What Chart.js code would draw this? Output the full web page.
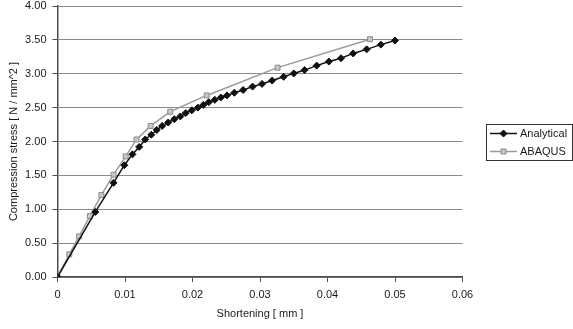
<!DOCTYPE html>
<html>
<head>
<meta charset="utf-8">
<title>Compression stress vs shortening</title>
<style>
  html, body { margin: 0; padding: 0; background: #ffffff; }
  #wrap { width: 573px; height: 329px; }
</style>
</head>
<body>
<div id="wrap"><canvas id="stressChart" width="573" height="329"></canvas></div>
<script src="https://cdn.jsdelivr.net/npm/chart.js@4.4.1/dist/chart.umd.min.js"></script>
<script>
  const SERIES_NAMES = ['Analytical', 'ABAQUS'];

  const ANALYTICAL_X = [0, 0.0056, 0.0083, 0.0099, 0.0111, 0.0121, 0.0130, 0.0139, 0.0147, 0.0155,
    0.0164, 0.0173, 0.0182, 0.0190, 0.0199, 0.0208, 0.0216, 0.0224, 0.0233, 0.0242,
    0.0251, 0.0262, 0.0275, 0.0289, 0.0303, 0.0318, 0.0335, 0.0350, 0.0366, 0.0384,
    0.0402, 0.0420, 0.0438, 0.0458, 0.0479, 0.0500];
  const ANALYTICAL_Y = [0, 0.96, 1.39, 1.65, 1.81, 1.92, 2.03, 2.10, 2.17, 2.23,
    2.28, 2.33, 2.37, 2.42, 2.46, 2.50, 2.54, 2.58, 2.615, 2.65,
    2.68, 2.72, 2.76, 2.81, 2.85, 2.90, 2.955, 3.005, 3.054, 3.12,
    3.18, 3.23, 3.30, 3.36, 3.43, 3.49];

  const ABAQUS_X = [0, 0.00175, 0.0032, 0.0048, 0.0065, 0.0083, 0.0101, 0.0117, 0.0138, 0.0167, 0.0221, 0.0326, 0.0463];
  const ABAQUS_Y = [0, 0.335, 0.60, 0.90, 1.21, 1.51, 1.78, 2.03, 2.23, 2.44, 2.68, 3.09, 3.51];

  const X_TICKS = [0, 0.01, 0.02, 0.03, 0.04, 0.05, 0.06];
  const X_TICK_LABELS = ['0', '0.01', '0.02', '0.03', '0.04', '0.05', '0.06'];
  const Y_TICKS = [0, 0.5, 1, 1.5, 2, 2.5, 3, 3.5, 4];
  const Y_TICK_LABELS = ['0.00', '0.50', '1.00', '1.50', '2.00', '2.50', '3.00', '3.50', '4.00'];

  const FONT_FAMILY = "Arial, 'Liberation Sans', sans-serif";
  const TEXT_COLOR = '#1a1a1a';
  const AXIS_COLOR = '#4d4d4d';
  const GRID_COLOR = '#8a8a8a';

  function toPoints(xs, ys) {
    return xs.map((x, i) => ({ x: x, y: ys[i] }));
  }

  // legend in a box, line with marker in the middle like the original
  const boxLegend = {
    id: 'boxLegend',
    afterDraw(chart) {
      const ctx = chart.ctx;
      const box = { left: 486.5, top: 124.5, width: 86, height: 36 };
      ctx.save();
      ctx.strokeStyle = '#333333';
      ctx.lineWidth = 1;
      ctx.strokeRect(box.left, box.top, box.width, box.height);

      chart.data.datasets.forEach((ds, i) => {
        const y = box.top + 9 + i * 18;
        const mx = 503.5;
        ctx.strokeStyle = ds.borderColor;
        ctx.lineWidth = ds.borderWidth;
        ctx.beginPath();
        ctx.moveTo(490, y);
        ctx.lineTo(517, y);
        ctx.stroke();

        ctx.fillStyle = ds.pointBackgroundColor;
        ctx.strokeStyle = ds.pointBorderColor;
        ctx.lineWidth = ds.pointBorderWidth;
        const r = ds.pointRadius;
        ctx.beginPath();
        if (ds.pointStyle === 'rectRot') {
          ctx.moveTo(mx - r, y);
          ctx.lineTo(mx, y - r);
          ctx.lineTo(mx + r, y);
          ctx.lineTo(mx, y + r);
          ctx.closePath();
        } else {
          const s = Math.SQRT1_2 * r;
          ctx.rect(mx - s, y - s, 2 * s, 2 * s);
        }
        ctx.fill();
        ctx.stroke();

        ctx.fillStyle = TEXT_COLOR;
        ctx.font = '11px ' + FONT_FAMILY;
        ctx.textBaseline = 'middle';
        ctx.textAlign = 'left';
        ctx.fillText(ds.label, 520, y);
      });
      ctx.restore();
    }
  };

  const ctx = document.getElementById('stressChart').getContext('2d');

  new Chart(ctx, {
    type: 'line',
    data: {
      datasets: [
        {
          label: SERIES_NAMES[0],
          data: toPoints(ANALYTICAL_X, ANALYTICAL_Y),
          borderColor: '#111111',
          borderWidth: 1.5,
          pointStyle: 'rectRot',
          pointRadius: 3.5,
          pointBackgroundColor: '#111111',
          pointBorderColor: '#111111',
          pointBorderWidth: 1,
          tension: 0
        },
        {
          label: SERIES_NAMES[1],
          data: toPoints(ABAQUS_X, ABAQUS_Y),
          borderColor: '#9a9a9a',
          borderWidth: 1.5,
          pointStyle: 'rect',
          pointRadius: 3.5,
          pointBackgroundColor: '#c8c8c8',
          pointBorderColor: '#8a8a8a',
          pointBorderWidth: 1,
          tension: 0
        }
      ]
    },
    options: {
      responsive: false,
      animation: false,
      layout: {
        autoPadding: false,
        padding: { left: 3.5, right: 110.5, top: 0, bottom: 4 }
      },
      scales: {
        x: {
          type: 'linear',
          min: 0,
          max: 0.06,
          afterBuildTicks: (scale) => { scale.ticks = X_TICKS.map((v) => ({ value: v })); },
          afterFit: (scale) => { scale.height = 48; },
          ticks: {
            color: TEXT_COLOR,
            font: { family: FONT_FAMILY, size: 11 },
            padding: 6,
            maxRotation: 0,
            callback: (value, index) => X_TICK_LABELS[index]
          },
          grid: {
            drawOnChartArea: false,
            drawTicks: true,
            tickLength: 5,
            color: AXIS_COLOR
          },
          border: { color: AXIS_COLOR, width: 1.5 },
          title: {
            display: true,
            text: 'Shortening [ mm ]',
            color: TEXT_COLOR,
            font: { family: FONT_FAMILY, size: 11 },
            padding: { top: 6, bottom: 4 }
          }
        },
        y: {
          type: 'linear',
          min: 0,
          max: 4,
          afterBuildTicks: (scale) => { scale.ticks = Y_TICKS.map((v) => ({ value: v })); },
          afterFit: (scale) => {
            scale.width = 54;
            scale.paddingTop = 6;
          },
          ticks: {
            color: TEXT_COLOR,
            font: { family: FONT_FAMILY, size: 11 },
            padding: 6,
            callback: (value, index) => Y_TICK_LABELS[index]
          },
          grid: {
            color: GRID_COLOR,
            lineWidth: 1,
            tickLength: 5,
            tickColor: AXIS_COLOR
          },
          border: { color: AXIS_COLOR, width: 1.5 },
          title: {
            display: true,
            text: 'Compression stress [ N / mm^2 ]',
            color: TEXT_COLOR,
            font: { family: FONT_FAMILY, size: 11 },
            padding: { top: 4, bottom: 4.5 }
          }
        }
      },
      plugins: {
        legend: { display: false },
        tooltip: { enabled: false }
      }
    },
    plugins: [boxLegend]
  });
</script>
</body>
</html>
